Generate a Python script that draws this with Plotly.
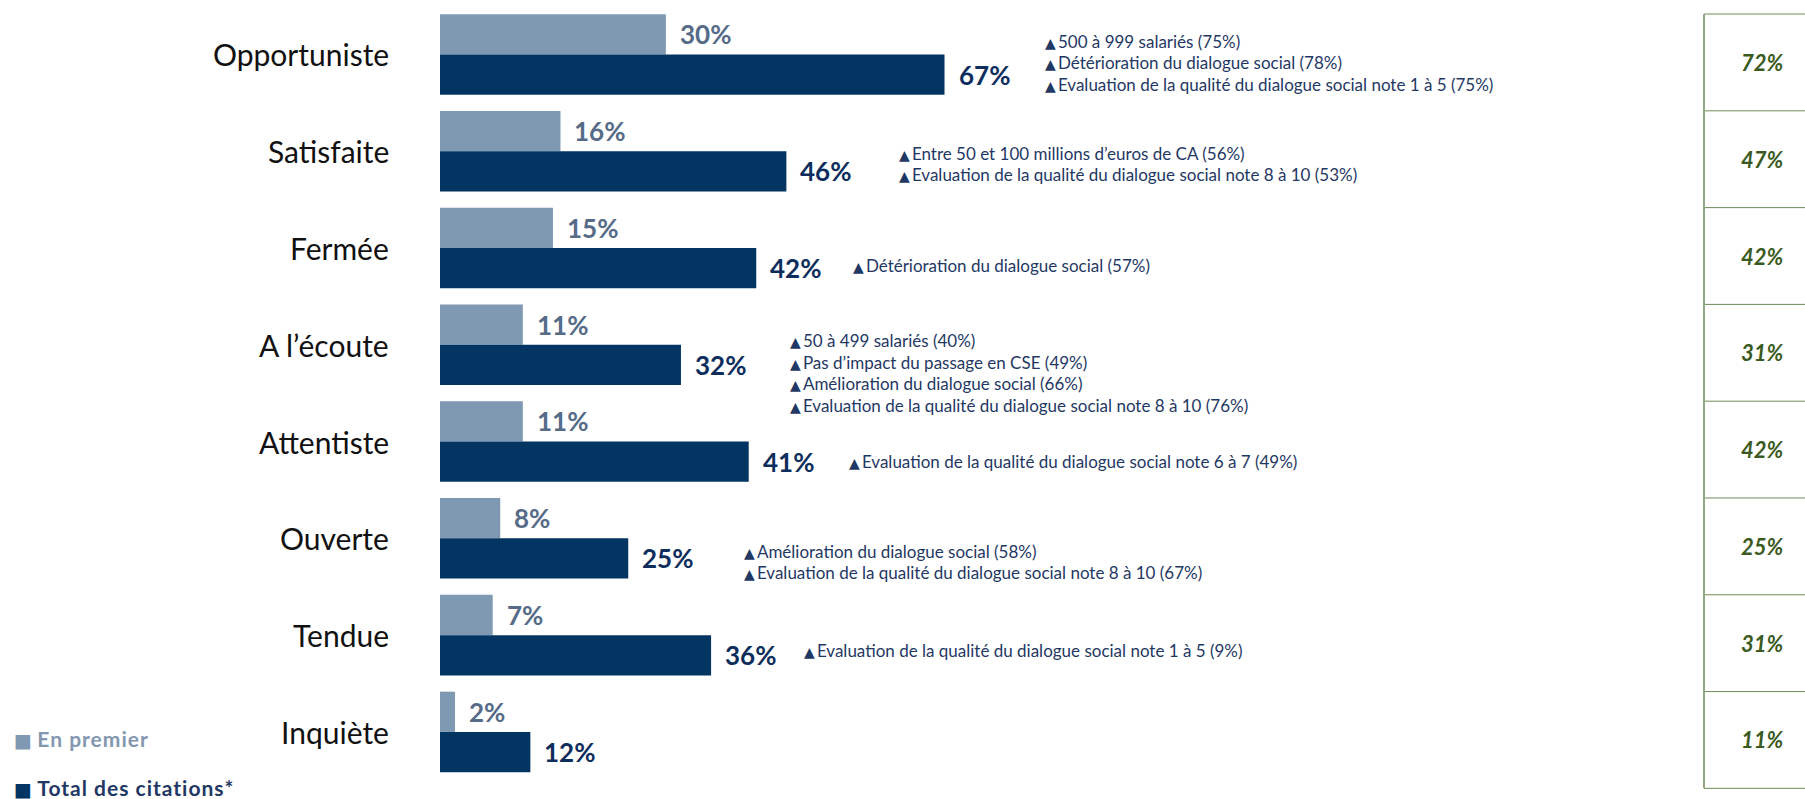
import plotly.graph_objects as go

categories = ["Opportuniste", "Satisfaite", "Fermée", "A l’écoute", "Attentiste", "Ouverte", "Tendue", "Inquiète"]
en_premier = [30, 16, 15, 11, 11, 8, 7, 2]
total_citations = [67, 46, 42, 32, 41, 25, 36, 12]
right_values = ["72%", "47%", "42%", "31%", "42%", "25%", "31%", "11%"]

notes = [
    ["500 à 999 salariés (75%)", "Détérioration du dialogue social (78%)",
     "Evaluation de la qualité du dialogue social note 1 à 5 (75%)"],
    ["Entre 50 et 100 millions d’euros de CA (56%)",
     "Evaluation de la qualité du dialogue social note 8 à 10 (53%)"],
    ["Détérioration du dialogue social (57%)"],
    ["50 à 499 salariés (40%)", "Pas d’impact du passage en CSE (49%)",
     "Amélioration du dialogue social (66%)",
     "Evaluation de la qualité du dialogue social note 8 à 10 (76%)"],
    ["Evaluation de la qualité du dialogue social note 6 à 7 (49%)"],
    ["Amélioration du dialogue social (58%)",
     "Evaluation de la qualité du dialogue social note 8 à 10 (67%)"],
    ["Evaluation de la qualité du dialogue social note 1 à 5 (9%)"],
    [],
]
notes_x = [80.1, 60.7, 54.6, 46.2, 54.0, 40.1, 48.1, 0]
notes_first_shift = [-13, 2, 18, -4, 20, 13, 15, 0]

W, H = 1805, 799
LIGHT = "#7f99b2"
DARK = "#033563"
FONT = "Lato"

y_idx = list(range(len(categories)))
bargap = 0.168
band_px = 96.9
y_lo, y_hi = -0.5, 7.6
top_px = 54 - 0.5 * band_px
plot_h = (y_hi - y_lo) * band_px
bot_px = H - top_px - plot_h
x0_px, x1_px = 440, 1700
px_per = 7.53
x_max = (x1_px - x0_px) / px_per

fig = go.Figure()
fig.add_trace(go.Bar(y=y_idx, x=en_premier, orientation="h", marker_color=LIGHT,
                     name="En premier", marker_line_width=0, hoverinfo="skip"))
fig.add_trace(go.Bar(y=y_idx, x=total_citations, orientation="h", marker_color=DARK,
                     name="Total des citations*", marker_line_width=0, hoverinfo="skip"))

ann = []
half = (1 - bargap) / 4
tri = "<span style='font-family:DejaVu Sans;font-size:14px'>▲</span>\u2009"
for i, c in enumerate(categories):
    ann.append(dict(x=(x0_px - 49) / W, xref="paper", y=i, yref="y", text=c,
                    xanchor="right", yanchor="middle", showarrow=False,
                    font=dict(family=FONT, size=30, color="#111111")))
    ann.append(dict(x=en_premier[i], xref="x", y=i - half, yref="y",
                    text=f"<b>{en_premier[i]}%</b>", xanchor="left", yanchor="middle",
                    xshift=12, showarrow=False,
                    font=dict(family=FONT, size=26, color="#566b88")))
    ann.append(dict(x=total_citations[i], xref="x", y=i + half, yref="y",
                    text=f"<b>{total_citations[i]}%</b>", xanchor="left", yanchor="middle",
                    xshift=12, showarrow=False,
                    font=dict(family=FONT, size=26, color="#0d2e5c")))
    for k, line in enumerate(notes[i]):
        ann.append(dict(x=notes_x[i], xref="x", y=i, yref="y",
                        text=tri + line,
                        xanchor="left", yanchor="middle",
                        yshift=-(notes_first_shift[i] + 21.5 * k), showarrow=False,
                        font=dict(family=FONT, size=17, color="#1f3864")))
    ann.append(dict(x=1762 / W, xref="paper", y=i + 0.083, yref="y",
                    text=f"<b><i>{right_values[i]}</i></b>", xanchor="center",
                    yanchor="middle", showarrow=False,
                    font=dict(family=FONT, size=22, color="#3b5a22")))

# legend-like labels
sq = "<span style='font-family:DejaVu Sans;font-size:19px;color:{}'>■</span>"
ann.append(dict(x=12 / W, xref="paper", y=1 - 747 / H, yref="paper",
                text=sq.format(LIGHT) + " <span style='letter-spacing:1px'><b>En premier</b></span>",
                xanchor="left", yanchor="middle", showarrow=False,
                font=dict(family=FONT, size=21, color="#8497b0")))
ann.append(dict(x=12 / W, xref="paper", y=1 - 796 / H, yref="paper",
                text=sq.format(DARK) + " <span style='letter-spacing:1px'><b>Total des citations*</b></span>",
                xanchor="left", yanchor="middle", showarrow=False,
                font=dict(family=FONT, size=21, color="#1f3864")))

shapes = []
px_l = 1704 / W
for i in range(len(categories) + 1):
    yy = i - 0.5 + 0.083
    shapes.append(dict(type="line", xref="paper", yref="y", x0=px_l, x1=1.0,
                       y0=yy, y1=yy, line=dict(color="#6f8b5a", width=1)))
shapes.append(dict(type="line", xref="paper", yref="y", x0=px_l, x1=px_l,
                   y0=-0.5 + 0.083, y1=len(categories) - 0.5 + 0.083,
                   line=dict(color="#93a885", width=2)))

fig.update_layout(
    width=W, height=H,
    margin=dict(l=0, r=0, t=top_px, b=bot_px, pad=0),
    paper_bgcolor="white", plot_bgcolor="white",
    barmode="group", bargap=bargap, bargroupgap=0,
    showlegend=False,
    xaxis=dict(domain=[x0_px / W, x1_px / W], range=[0, x_max], visible=False),
    yaxis=dict(range=[y_hi, y_lo], visible=False),
    annotations=ann, shapes=shapes,
)

fig.write_html("out.html", config={"displayModeBar": False},
               post_script="document.body.style.margin='0';")
